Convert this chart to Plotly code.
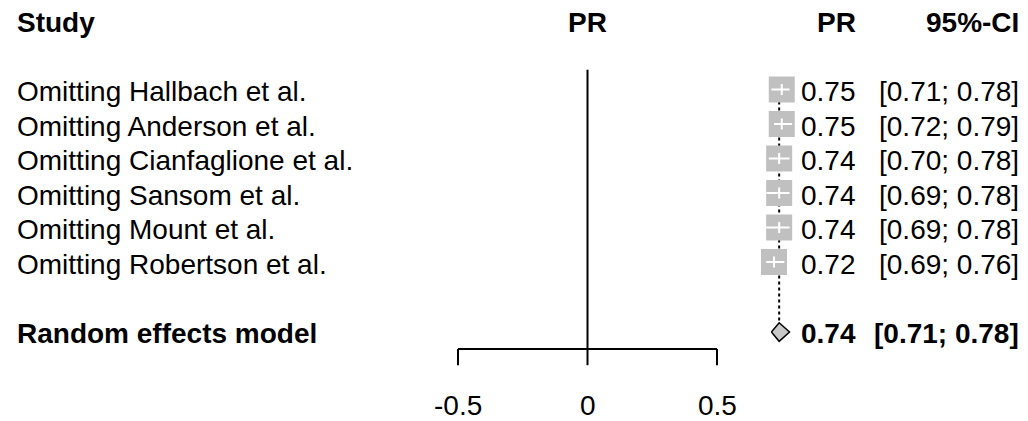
import plotly.graph_objects as go

# ---------------- data ----------------
studies = ["Omitting Hallbach et al.", "Omitting Anderson et al.",
           "Omitting Cianfaglione et al.", "Omitting Sansom et al.",
           "Omitting Mount et al.", "Omitting Robertson et al."]
pr = [0.75, 0.75, 0.74, 0.74, 0.74, 0.72]
ci_lo = [0.71, 0.72, 0.70, 0.69, 0.69, 0.69]
ci_hi = [0.78, 0.79, 0.78, 0.78, 0.78, 0.76]
pooled_label = "Random effects model"
pooled = 0.74
pooled_lo = 0.71
pooled_hi = 0.78
tick_vals = [-0.5, 0, 0.5]
tick_text = ["-0.5", "0", "0.5"]
headers = ["Study", "PR", "PR", "95%-CI"]

# ---------------- layout geometry ----------------
W, H = 1028, 421
X0_PX, UNIT_PX = 587.5, 259.0
ROW0_PX, ROW_PX = 20.5, 34.5
xr = [(0 - X0_PX) / UNIT_PX, (W - X0_PX) / UNIT_PX]
yr = [(H - ROW0_PX) / ROW_PX, (0 - ROW0_PX) / ROW_PX]

study_rows = [2 + i for i in range(len(studies))]
pooled_row = 9.03
axis_row = 9.52
tick_end_row = 9.99
ticklab_row = 11.09
zero_top_row = 1.43
dia_h = 0.27

SQ_HALF_X = 13.0 / UNIT_PX
SQ_HALF_Y = 13.0 / ROW_PX

FONT = "Liberation Sans, Arial, sans-serif"
FS = 28
GREY = "#c0c0c0"
DIA_GREY = "#c8c8c8"

fig = go.Figure()

# pooled dotted line (behind squares)
fig.add_trace(go.Scatter(x=[pooled, pooled], y=[study_rows[0], pooled_row - dia_h],
                         mode="lines", line=dict(color="black", width=2, dash="dot"),
                         hoverinfo="skip"))
# line at zero
fig.add_trace(go.Scatter(x=[0, 0], y=[zero_top_row, axis_row], mode="lines",
                         line=dict(color="black", width=2), hoverinfo="skip"))
# x axis line with ticks
ax_x, ax_y = [tick_vals[0], tick_vals[-1], None], [axis_row, axis_row, None]
for t in tick_vals:
    ax_x += [t, t, None]
    ax_y += [axis_row, tick_end_row, None]
fig.add_trace(go.Scatter(x=ax_x, y=ax_y, mode="lines",
                         line=dict(color="black", width=2), hoverinfo="skip"))

# squares
for p, r in zip(pr, study_rows):
    fig.add_trace(go.Scatter(
        x=[p - SQ_HALF_X, p + SQ_HALF_X, p + SQ_HALF_X, p - SQ_HALF_X, p - SQ_HALF_X],
        y=[r - SQ_HALF_Y, r - SQ_HALF_Y, r + SQ_HALF_Y, r + SQ_HALF_Y, r - SQ_HALF_Y],
        mode="lines", fill="toself", fillcolor=GREY, line=dict(width=0, color=GREY),
        hoverinfo="skip"))
# white CI lines inside squares + center tick
cx, cy = [], []
for p, lo, hi, r in zip(pr, ci_lo, ci_hi, study_rows):
    cx += [lo, hi, None, p, p, None]
    cy += [r, r, None, r - 0.16, r + 0.16, None]
fig.add_trace(go.Scatter(x=cx, y=cy, mode="lines",
                         line=dict(color="white", width=2), hoverinfo="skip"))

# diamond
fig.add_trace(go.Scatter(x=[pooled_lo, pooled, pooled_hi, pooled, pooled_lo],
                         y=[pooled_row, pooled_row - dia_h, pooled_row, pooled_row + dia_h, pooled_row],
                         mode="lines", fill="toself", fillcolor=DIA_GREY,
                         line=dict(color="black", width=1.5), hoverinfo="skip"))

ann = []
def txt(text, x, y, xanchor, bold=False, xref="x"):
    ann.append(dict(text=f"<b>{text}</b>" if bold else text, x=x, y=y, xref=xref, yref="y",
                    xanchor=xanchor, yanchor="middle", showarrow=False, yshift=-2,
                    font=dict(family=FONT, size=FS, color="black")))

STUDY_X = 15 / W
PR_X = 858 / W
CI_X = 1021 / W

# headers
txt(headers[0], STUDY_X, 0, "left", True, "paper")
txt(headers[1], 0, 0, "center", True)
txt(headers[2], PR_X, 0, "right", True, "paper")
txt(headers[3], CI_X, 0, "right", True, "paper")

for s, p, lo, hi, r in zip(studies, pr, ci_lo, ci_hi, study_rows):
    txt(s, STUDY_X, r, "left", False, "paper")
    txt(f"{p:.2f}", PR_X, r, "right", False, "paper")
    txt(f"[{lo:.2f}; {hi:.2f}]", CI_X, r, "right", False, "paper")

txt(pooled_label, STUDY_X, 9, "left", True, "paper")
txt(f"{pooled:.2f}", PR_X, 9, "right", True, "paper")
txt(f"[{pooled_lo:.2f}; {pooled_hi:.2f}]", CI_X, 9, "right", True, "paper")

for t, tl in zip(tick_vals, tick_text):
    txt(tl, t, ticklab_row, "center")

fig.update_layout(width=W, height=H, margin=dict(l=0, r=0, t=0, b=0),
                  paper_bgcolor="white", plot_bgcolor="white", showlegend=False,
                  annotations=ann,
                  xaxis=dict(range=xr, visible=False, fixedrange=True),
                  yaxis=dict(range=yr, visible=False, fixedrange=True))

fig.write_html("out.html", config={"displayModeBar": False})
